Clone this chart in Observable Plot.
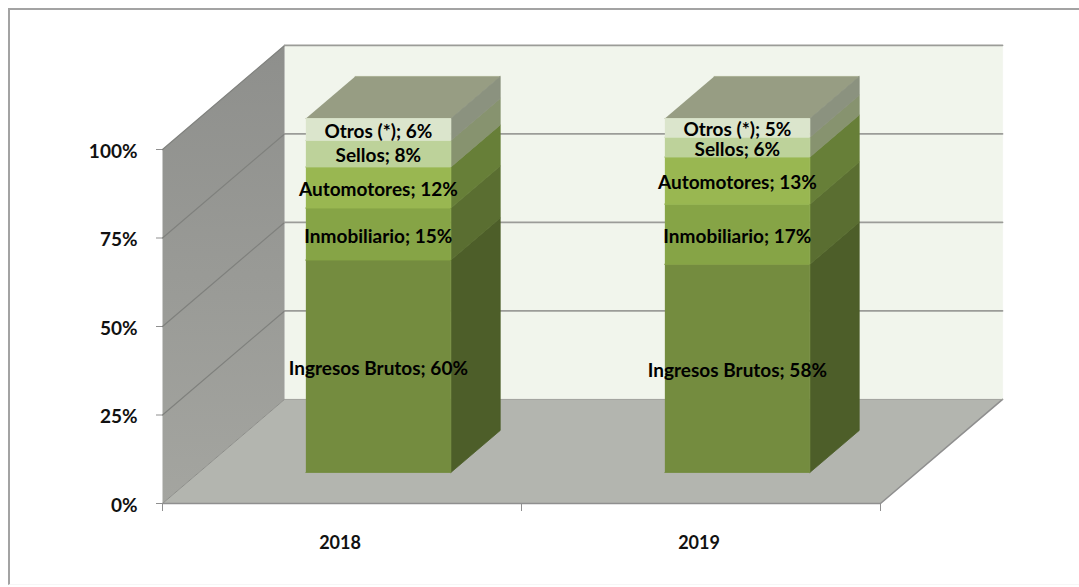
<!DOCTYPE html>
<html>
<head>
<meta charset="utf-8">
<script src="https://cdn.jsdelivr.net/npm/d3@7"></script>
<script src="https://cdn.jsdelivr.net/npm/@observablehq/plot@0.6"></script>
<style>
html,body{margin:0;padding:0;background:#fff;overflow:hidden}
#box{position:absolute;left:8px;top:8px;width:1071px;height:577px;border-left:2px solid #a3a3a3;border-top:2px solid #a3a3a3;border-bottom:1px solid #f6f6f6;box-sizing:border-box}
#chart{position:absolute;left:0;top:0}
</style>
</head>
<body>
<div id="box"></div>
<div id="chart"></div>
<script>
const years = ["2018", "2019"];
const categories = ["Ingresos Brutos", "Inmobiliario", "Automotores", "Sellos", "Otros (*)"];
const heights2018 = [60, 14.7, 11.6, 7.5, 6.2];
const heights2019 = [58.8, 17, 13.3, 5.6, 5.3];
const labels2018 = [60, 15, 12, 8, 6];
const labels2019 = [58, 17, 13, 6, 5];
const frontColors = ["#748c3f", "#86a446", "#99b751", "#bdd29a", "#dbe5cc"];
const sideColors = ["#4d5e29", "#5a6e31", "#677f38", "#87936f", "#8b927f"];
const yTicks = [0, 25, 50, 75, 100];
const xTicks = [0, 1, 2];

// Oblique depth: how far one full unit of depth moves along x and y
const depthX = 0.34, depthY = 29.4;
const barWidth = 0.404, barZ0 = 0.298, barZ1 = 0.702;
const proj = ([x, v, z]) => ({x: x + z * depthX, y: v + z * depthY});
const face = (corners, fill, stroke = fill, strokeWidth = 0.8) =>
  Plot.line(corners.map(proj), {x: "x", y: "y", fill, stroke, strokeWidth, strokeLinejoin: "round"});

const defs = () => {
  const d = d3.create("svg:defs");
  const g = d.append("linearGradient").attr("id", "wall").attr("x1", 0).attr("x2", 0).attr("y1", 0).attr("y2", 1);
  g.append("stop").attr("offset", "0%").attr("stop-color", "#8e8f8c");
  g.append("stop").attr("offset", "100%").attr("stop-color", "#a4a5a0");
  return d.node();
};

function bar(center, heights, labels) {
  const tops = d3.cumsum(heights);
  const l = center - barWidth / 2, r = center + barWidth / 2;
  const marks = [];
  const total = tops[tops.length - 1];
  marks.push(face([[l, total, barZ0], [r, total, barZ0], [r, total, barZ1], [l, total, barZ1]], "#979d83", "#a6ac8e"));
  heights.forEach((h, i) => {
    const lo = tops[i] - h, hi = tops[i];
    marks.push(face([[r, lo, barZ0], [r, lo, barZ1], [r, hi, barZ1], [r, hi, barZ0]], sideColors[i]));
    marks.push(face([[l, lo, barZ0], [r, lo, barZ0], [r, hi, barZ0], [l, hi, barZ0]], frontColors[i]));
  });
  const center0 = proj([center, 0, barZ0]).x;
  marks.push(Plot.text(heights.map((h, i) => ({
    x: center0,
    y: tops[i] - h / 2 + barZ0 * depthY,
    t: `${categories[i]}; ${labels[i]}%`
  })), {x: "x", y: "y", text: "t", dy: 2.5, fontSize: 19, fontWeight: 700, fill: "#000",
        fontFamily: "Lato", lineAnchor: "middle"}));
  return marks;
}

const plot = Plot.plot({
  width: 1079,
  height: 587,
  marginLeft: 162,
  marginRight: 199,
  marginTop: 149,
  marginBottom: 84,
  style: {background: "transparent", overflow: "visible"},
  x: {type: "linear", domain: [0, 2]},
  y: {type: "linear", domain: [0, 100]},
  marks: [
    defs,
    // back wall
    face([[0, 0, 1], [2, 0, 1], [2, 100, 1], [0, 100, 1]], "#f1f5ec", "#f1f5ec"),
    // left wall
    face([[0, 0, 0], [0, 0, 1], [0, 100, 1], [0, 100, 0]], "url(#wall)", "none"),
    // floor
    face([[0, 0, 0], [2, 0, 0], [2, 0, 1], [0, 0, 1]], "#b3b5af", "none"),
    Plot.line([[0, 0, 0], [0, 0, 1]].map(proj), {x: "x", y: "y", stroke: "#8d8e8a", strokeWidth: 1}),
    Plot.line([[0, 0, 0], [2, 0, 0], [2, 0, 1]].map(proj), {x: "x", y: "y", stroke: "#8f8f8f", strokeWidth: 1.6}),
    Plot.line([[0, 0, 1], [2, 0, 1]].map(proj), {x: "x", y: "y", stroke: "#a0a29c", strokeWidth: 1}),
    // gridlines across both walls
    ...yTicks.slice(1).map(v =>
      Plot.line([[0, v, 0], [0, v, 1]].map(proj), {x: "x", y: "y", stroke: "#7f807d", strokeWidth: 1.2})),
    ...yTicks.slice(1).map(v =>
      Plot.line([[0, v, 1], [2, v, 1]].map(proj), {x: "x", y: "y", stroke: "#9b9c98", strokeWidth: 1.6})),
    // axes
    Plot.axisY({ticks: yTicks, tickSize: 6, tickFormat: () => "", label: null, stroke: "#8f8f8f"}),
    Plot.axisY({ticks: yTicks, tickSize: 0, tickPadding: 25, dy: 2, tickFormat: d => d + "%", label: null,
      fontSize: 19, fontWeight: 700, fontFamily: "Lato", color: "#111"}),
    Plot.axisX({ticks: xTicks, tickSize: 8, tickFormat: () => "", label: null, stroke: "#8f8f8f"}),
    Plot.axisX({ticks: [0.5, 1.5], tickSize: 0, tickPadding: 33, dx: -2, tickFormat: d => years[Math.floor(d)], label: null,
      fontSize: 18, fontWeight: 700, fontFamily: "Lato", color: "#111"}),
    // bars
    ...bar(0.5, heights2018, labels2018),
    ...bar(1.5, heights2019, labels2019)
  ]
});
document.getElementById("chart").append(plot);
</script>
</body>
</html>
